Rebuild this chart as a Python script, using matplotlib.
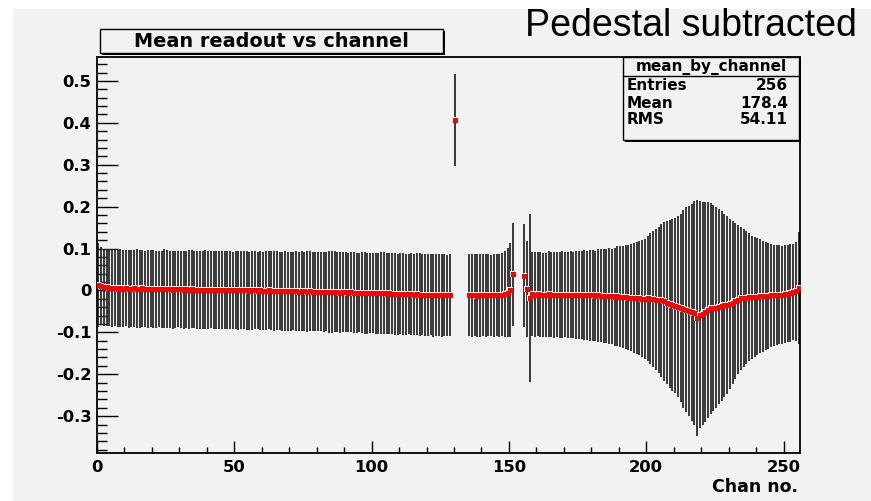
import numpy as np
import matplotlib.pyplot as plt
from matplotlib.patches import Rectangle
from matplotlib.ticker import MultipleLocator

# mean readout per channel (pedestal subtracted), NaN = empty channel
mean_0_128 = [
    0.013, 0.010, 0.008, 0.007, 0.006, 0.006, 0.005, 0.004, 0.005, 0.004,
    0.005, 0.004, 0.004, 0.005, 0.004, 0.003, 0.005, 0.004, 0.003, 0.004,
    0.004, 0.003, 0.004, 0.003, 0.004, 0.003, 0.003, 0.002, 0.003, 0.004,
    0.003, 0.002, 0.003, 0.002, 0.003, 0.002, 0.002, 0.001, 0.002, 0.002,
    0.001, 0.002, 0.001, 0.001, 0.002, 0.001, 0.000, 0.001, 0.001, 0.000,
    0.001, 0.000, 0.000, 0.001, 0.000, -0.001, 0.000, 0.000, -0.001, 0.000,
    -0.001, -0.001, 0.000, -0.001, -0.002, -0.001, -0.001, -0.002, -0.001, -0.002,
    -0.002, -0.001, -0.002, -0.003, -0.002, -0.002, -0.003, -0.002, -0.003, -0.003,
    -0.003, -0.003, -0.004, -0.003, -0.004, -0.004, -0.003, -0.004, -0.005, -0.004,
    -0.004, -0.005, -0.004, -0.005, -0.006, -0.005, -0.005, -0.006, -0.007, -0.006,
    -0.006, -0.007, -0.007, -0.006, -0.007, -0.008, -0.007, -0.008, -0.008, -0.009,
    -0.008, -0.009, -0.009, -0.008, -0.009, -0.010, -0.009, -0.010, -0.010, -0.011,
    -0.010, -0.010, -0.011, -0.010, -0.011, -0.011, -0.010, -0.012, -0.011,
]
mean_129_157 = [
    np.nan, 0.407, np.nan, np.nan, np.nan, np.nan,
    -0.011, -0.012, -0.011, -0.013, -0.012, -0.011, -0.012, -0.011, -0.012, -0.011,
    -0.010, -0.011, -0.010, -0.008, -0.005, 0.002,
    0.038, np.nan, np.nan, np.nan, 0.035, 0.004, -0.018,
]
mean_158_255 = [
    -0.009, -0.010, -0.009, -0.010, -0.011, -0.010, -0.009, -0.010, -0.011, -0.010, -0.011, -0.010,
    -0.010, -0.011, -0.010, -0.011, -0.012, -0.011, -0.012, -0.011, -0.012, -0.012,
    -0.012, -0.013, -0.012, -0.013, -0.014, -0.013, -0.014, -0.014, -0.015, -0.014,
    -0.015, -0.015, -0.016, -0.017, -0.017, -0.018, -0.018, -0.019, -0.020, -0.020,
    -0.019, -0.020, -0.021, -0.022, -0.023, -0.024, -0.026, -0.029, -0.033, -0.035,
    -0.037, -0.039, -0.042, -0.044, -0.046, -0.049, -0.052, -0.054, -0.066, -0.058,
    -0.056, -0.052, -0.047, -0.043, -0.042, -0.041, -0.039, -0.037, -0.036, -0.035,
    -0.033, -0.029, -0.025, -0.022, -0.019, -0.018, -0.017, -0.016, -0.016, -0.015,
    -0.015, -0.014, -0.014, -0.013, -0.013, -0.012, -0.012, -0.011, -0.010, -0.010,
    -0.009, -0.008, -0.006, -0.004, -0.002, 0.005,
]

err_0_128 = [
    0.100, 0.093, 0.092, 0.091, 0.092, 0.093, 0.091, 0.092, 0.093, 0.092,
    0.091, 0.093, 0.092, 0.092, 0.094, 0.093, 0.092, 0.091, 0.093, 0.092,
    0.093, 0.092, 0.091, 0.092, 0.094, 0.093, 0.092, 0.093, 0.092, 0.091,
    0.092, 0.093, 0.092, 0.094, 0.093, 0.092, 0.093, 0.092, 0.093, 0.094,
    0.093, 0.092, 0.093, 0.094, 0.093, 0.092, 0.093, 0.094, 0.093, 0.092,
    0.093, 0.094, 0.093, 0.092, 0.094, 0.093, 0.094, 0.093, 0.092, 0.094,
    0.093, 0.094, 0.093, 0.094, 0.095, 0.094, 0.093, 0.094, 0.095, 0.094,
    0.094, 0.093, 0.095, 0.094, 0.095, 0.094, 0.096, 0.095, 0.094, 0.095,
    0.095, 0.094, 0.096, 0.095, 0.097, 0.098, 0.096, 0.095, 0.096, 0.095,
    0.096, 0.095, 0.096, 0.097, 0.096, 0.095, 0.096, 0.097, 0.096, 0.095,
    0.096, 0.097, 0.096, 0.097, 0.098, 0.097, 0.096, 0.097, 0.098, 0.097,
    0.097, 0.098, 0.097, 0.096, 0.098, 0.097, 0.098, 0.099, 0.097, 0.098,
    0.098, 0.097, 0.099, 0.098, 0.097, 0.099, 0.098, 0.097, 0.098,
]
err_129_157 = [
    np.nan, 0.109, np.nan, np.nan, np.nan, np.nan,
    0.097, 0.098, 0.097, 0.099, 0.098, 0.097, 0.099, 0.098, 0.097, 0.099,
    0.098, 0.099, 0.099, 0.102, 0.107, 0.112,
    0.122, np.nan, np.nan, np.nan, 0.123, 0.115, 0.201,
]
err_158_255 = [
    0.100, 0.101, 0.100, 0.102, 0.101, 0.100, 0.102, 0.101, 0.102, 0.101, 0.102, 0.103,
    0.102, 0.103, 0.104, 0.103, 0.105, 0.106, 0.105, 0.107, 0.106, 0.108,
    0.109, 0.108, 0.110, 0.111, 0.112, 0.113, 0.115, 0.114, 0.117, 0.119,
    0.121, 0.122, 0.124, 0.126, 0.128, 0.131, 0.134, 0.136, 0.140, 0.143,
    0.150, 0.156, 0.162, 0.168, 0.175, 0.182, 0.189, 0.195, 0.201, 0.206,
    0.209, 0.216, 0.225, 0.236, 0.244, 0.251, 0.259, 0.268, 0.282, 0.271,
    0.266, 0.262, 0.257, 0.251, 0.246, 0.240, 0.233, 0.226, 0.219, 0.212,
    0.203, 0.195, 0.187, 0.178, 0.170, 0.164, 0.158, 0.152, 0.147, 0.143,
    0.139, 0.136, 0.132, 0.129, 0.126, 0.123, 0.121, 0.119, 0.118, 0.117,
    0.117, 0.116, 0.116, 0.115, 0.118, 0.134,
]

title = 'Mean readout vs channel'
stats_name = 'mean_by_channel'
stats_rows = [('Entries', '256'), ('Mean', '178.4'), ('RMS', '54.11')]

mean = np.array(mean_0_128 + mean_129_157 + mean_158_255)
err = np.array(err_0_128 + err_129_157 + err_158_255)
chan = np.arange(len(mean)) + 0.5

W, H = 871, 501
fig = plt.figure(figsize=(W / 100, H / 100), dpi=100, facecolor='white')
bg = '#f2f2f2'


def fx(px):
    return px / W


def fy(py):
    return 1 - py / H


# ROOT canvas background
fig.patches.append(Rectangle((fx(13), 0), 1 - fx(13), fy(9), transform=fig.transFigure,
                             facecolor=bg, edgecolor='none', zorder=-10))

ax = fig.add_axes([fx(97), fy(453), fx(800) - fx(97), fy(57) - fy(453)])
ax.set_facecolor(bg)

ax.errorbar(chan, mean, yerr=err, fmt='none', ecolor='#2a2a2a', elinewidth=1.3, zorder=2)
ax.plot(chan, mean, 's', color='white', markersize=5.0, markeredgewidth=0, zorder=3)
ax.plot(chan, mean, 's', color='red', markersize=3.6, markeredgewidth=0, zorder=4)

ax.set_xlim(0, 256)
ax.set_ylim(-0.388, 0.557)

ax.xaxis.set_major_locator(MultipleLocator(50))
ax.xaxis.set_minor_locator(MultipleLocator(10))
ax.yaxis.set_major_locator(MultipleLocator(0.1))
ax.yaxis.set_minor_locator(MultipleLocator(0.02))
ax.xaxis.set_major_formatter(plt.FuncFormatter(lambda v, p: f'{v:g}'))
ax.yaxis.set_major_formatter(plt.FuncFormatter(lambda v, p: f'{round(v, 2):g}'))

ax.tick_params(axis='x', which='major', direction='in', length=8.6, width=1, pad=5,
               labelsize=11.8, top=False)
ax.tick_params(axis='x', which='minor', direction='in', length=4.3, width=1, top=False)
ax.tick_params(axis='y', which='major', direction='in', length=15, width=1, pad=4,
               labelsize=11.8, right=False)
ax.tick_params(axis='y', which='minor', direction='in', length=7.5, width=1, right=False)
for lab in ax.get_xticklabels() + ax.get_yticklabels():
    lab.set_fontweight('bold')
    lab.set_family('DejaVu Sans')
for s in ax.spines.values():
    s.set_linewidth(1.3)

fig.text(fx(798), fy(487), 'Chan no.', ha='right', va='center', fontsize=12.5,
         fontweight='bold', family='DejaVu Sans')

# title box with shadow
fig.patches.append(Rectangle((fx(102), fy(55)), fx(443) - fx(100), fy(29) - fy(53),
                             transform=fig.transFigure, facecolor='black', edgecolor='none', zorder=5))
fig.patches.append(Rectangle((fx(100), fy(53)), fx(443) - fx(100), fy(29) - fy(53),
                             transform=fig.transFigure, facecolor=bg, edgecolor='black', lw=1, zorder=6))
fig.text(fx(271), fy(41.5), title, ha='center', va='center', fontsize=13.9,
         fontweight='bold', family='DejaVu Sans', zorder=7)

# stats box with shadow
fig.patches.append(Rectangle((fx(625), fy(142)), fx(799) - fx(623), fy(57) - fy(140),
                             transform=fig.transFigure, facecolor='black', edgecolor='none', zorder=5))
fig.patches.append(Rectangle((fx(623), fy(140)), fx(799) - fx(623), fy(57) - fy(140),
                             transform=fig.transFigure, facecolor=bg, edgecolor='black', lw=1, zorder=6))
fig.add_artist(plt.Line2D([fx(623), fx(799)], [fy(76), fy(76)], transform=fig.transFigure,
                          color='black', lw=1, zorder=7))
fig.text(fx(711), fy(66.5), stats_name, ha='center', va='center', fontsize=11,
         fontweight='bold', family='DejaVu Sans', zorder=7)
for i, (k, v) in enumerate(stats_rows):
    y = fy(86 + i * 17)
    fig.text(fx(627), y, k, ha='left', va='center', fontsize=11, fontweight='bold',
             family='DejaVu Sans', zorder=7)
    fig.text(fx(788), y, v, ha='right', va='center', fontsize=11, fontweight='bold',
             family='DejaVu Sans', zorder=7)

fig.text(fx(857), fy(36.5), 'Pedestal subtracted', ha='right', va='baseline', fontsize=27,
         family='Liberation Sans', zorder=7)

fig.savefig('out.png', dpi=100, facecolor='white')
